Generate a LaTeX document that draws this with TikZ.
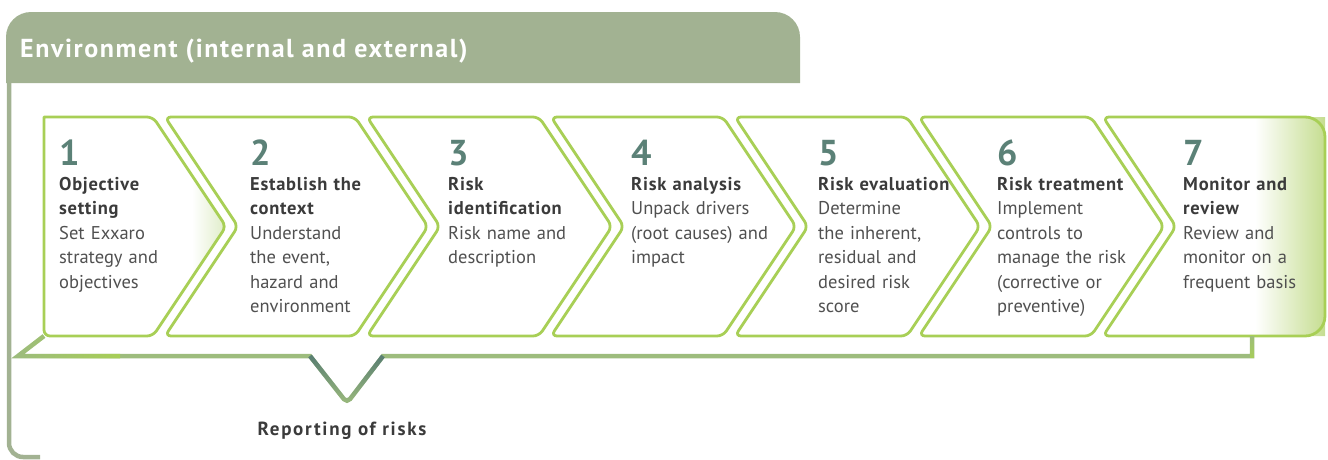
\documentclass[tikz,border=0pt]{standalone}
\usepackage{fontspec}
\setmainfont{PT Sans}
\newfontfamily\hdrfont[LetterSpace=6]{PT Sans}
\newfontfamily\ttlfont[LetterSpace=4]{PT Sans}
\newfontfamily\repfont[LetterSpace=9]{PT Sans}
\usetikzlibrary{fadings}

\definecolor{headgreen}{HTML}{A2B292}
\definecolor{chevgreen}{HTML}{A8CF56}
\definecolor{traygreen}{HTML}{9DBC7D}
\definecolor{trayteal}{HTML}{577C72}
\definecolor{numteal}{HTML}{5B8177}
\definecolor{titlegray}{HTML}{3B3B3B}
\definecolor{bodygray}{HTML}{505050}
\definecolor{tipgreen}{HTML}{DDEBC4}
\definecolor{endgreen}{HTML}{C3DC8C}

\newcommand{\stitle}[1]{\textcolor{titlegray}{\ttlfont\bfseries #1}}

\begin{document}
\begin{tikzpicture}[x=1pt, y=-1pt,
    chev/.style={draw=chevgreen, line width=2.8pt, line join=round},
    tray/.style={draw=traygreen, line width=4.5pt, line join=miter},
    stepnum/.style={anchor=base west, inner sep=0pt, text=numteal,
        font=\fontsize{36}{36}\selectfont\bfseries},
    steptxt/.style={anchor=base west, inner sep=0pt, align=left, text width=160pt,
        text=bodygray, font=\fontsize{18.5}{24.5}\selectfont}]
    \useasboundingbox (0,0) rectangle (1328,459);

    % Header band
    \fill[headgreen] (6,83) [rounded corners=25]-- (6,12) -- (800,12) [sharp corners]-- (800,83) -- cycle;
    \node[anchor=base west, inner sep=0pt, text=white, font=\hdrfont\fontsize{26}{26}\selectfont\bfseries]
        (env) at (20,57) {Environment (internal and external)};

    % Frame on the left
    \draw[headgreen, line width=4.5pt, rounded corners=14] (9,83) -- (9,457) -- (40,457);

    % Soft tints in the first and last chevron
    \begin{scope}
        \clip (44,117) -- (153,117) -- (226,226.5) -- (153,336) -- (44,336) -- cycle;
        \shade[left color=white, right color=tipgreen] (192,117) rectangle (228,336);
    \end{scope}
    \begin{scope}
        \clip (1103,117) -- (1325,117) -- (1325,336) -- (1103,336) -- (1176,226.5) -- cycle;
        \shade[left color=white, right color=endgreen] (1255,117) rectangle (1328,336);
    \end{scope}

    % Chevrons
    \draw[chev] (44,336) -- (44,117) [rounded corners=6]-- (153,117) -- (226,226.5) -- (153,336) -- cycle;
    \foreach \a/\b in {153/355, 355/539, 539/723, 723/907, 907/1091} {
        \draw[chev, rounded corners=6] (\a+12,117) -- (\b,117) -- (\b+73,226.5) -- (\b,336)
            -- (\a+12,336) -- (\a+85,226.5) -- cycle;
    }
    \draw[chev] (1176,226.5) [rounded corners=6]-- (1103,117) [rounded corners=20]-- (1325,117)
        -- (1325,336) [rounded corners=6]-- (1103,336) -- cycle;

    % Reporting tray
    \draw[tray] (44,336) -- (18,356) -- (310,356) [rounded corners=5]-- (347,403)
        [sharp corners]-- (383,356) -- (1252,356) -- (1252,336);
    \draw[tray, draw=chevgreen, path fading=west] (44,336) -- (18,356) -- (120,356);
    \draw[tray, draw=chevgreen, path fading=north] (1252,336) -- (1252,358);
    \draw[tray, draw=trayteal, path fading=south, rounded corners=5] (310,356) -- (347,403) -- (383,356);
    \node[anchor=base, inner sep=0pt, text=titlegray, font=\repfont\fontsize{19}{19}\selectfont\bfseries]
        (report) at (342,435) {Reporting of risks};

    % Step numbers
    \node[stepnum] (n1) at (59,165) {1};
    \node[stepnum] (n2) at (250,165) {2};
    \node[stepnum] (n3) at (448,165) {3};
    \node[stepnum] (n4) at (631,165) {4};
    \node[stepnum] (n5) at (818,165) {5};
    \node[stepnum] (n6) at (997,165) {6};
    \node[stepnum] (n7) at (1183,165) {7};

    % Step texts
    \node[steptxt] (t1) at (59,190) {\stitle{Objective}\\\stitle{setting}\\Set Exxaro\\strategy and\\objectives};
    \node[steptxt] (t2) at (250,190) {\stitle{Establish the}\\\stitle{context}\\Understand\\the event,\\hazard and\\environment};
    \node[steptxt] (t3) at (448,190) {\stitle{Risk}\\\stitle{identification}\\Risk name and\\description};
    \node[steptxt] (t4) at (631,190) {\stitle{Risk analysis}\\Unpack drivers\\(root causes) and\\impact};
    \node[steptxt] (t5) at (818,190) {\stitle{Risk evaluation}\\Determine\\the inherent,\\residual and\\desired risk\\score};
    \node[steptxt] (t6) at (997,190) {\stitle{Risk treatment}\\Implement\\controls to\\manage the risk\\(corrective or\\preventive)};
    \node[steptxt] (t7) at (1183,190) {\stitle{Monitor and}\\\stitle{review}\\Review and\\monitor on a\\frequent basis};
\end{tikzpicture}
\end{document}
